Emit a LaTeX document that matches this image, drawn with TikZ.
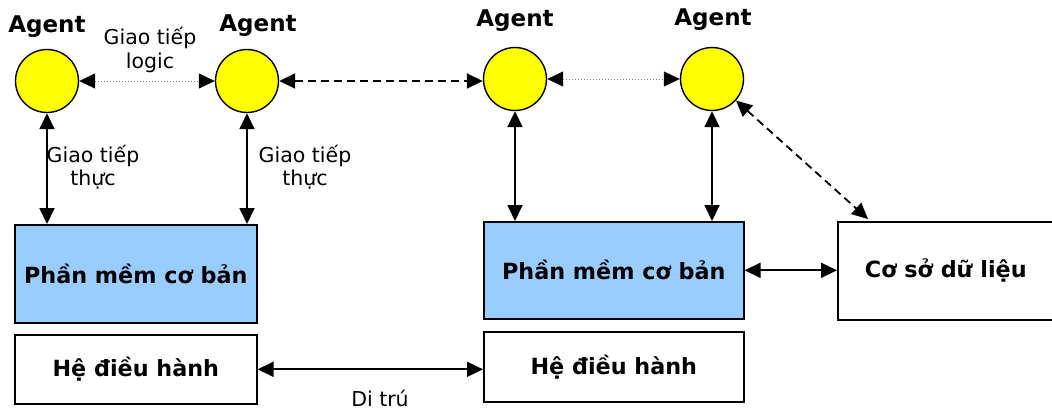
\documentclass[tikz,border=0pt]{standalone}
\usepackage{fontspec}
\setmainfont{DejaVu Sans}
\usetikzlibrary{arrows.meta}
\definecolor{agentyellow}{RGB}{255,255,0}
\definecolor{swblue}{RGB}{153,204,255}
\begin{document}
\begin{tikzpicture}[x=1pt,y=-1pt,
  agent/.style={circle,draw=black,line width=1.4pt,fill=agentyellow,minimum size=63pt,inner sep=0pt},
  box/.style={draw=black,line width=1.6pt,inner sep=0pt,anchor=north west,font=\fontsize{22.3}{26}\selectfont\bfseries},
  agentlbl/.style={font=\fontsize{23}{26}\selectfont\bfseries},
  lbl/.style={font=\fontsize{20.5}{23.5}\selectfont,align=center},
  link/.style={{Triangle[length=16pt,width=15pt,black]}-{Triangle[length=16pt,width=15pt,black]},line width=1.8pt},
  dashlink/.style={link,dash pattern=on 8pt off 5pt},
  dotlink/.style={link,line width=0.8pt,dash pattern=on 1.2pt off 1.8pt,draw=black!50}]
\useasboundingbox (0,0) rectangle (1052,410);

% agents
\node[agent] (a1) at (47,81) {};
\node[agent] (a2) at (247,81) {};
\node[agent] (a3) at (515,79) {};
\node[agent] (a4) at (712,79) {};
\node[agentlbl] (t1) at (47,27) {Agent};
\node[agentlbl] (t2) at (258,26) {Agent};
\node[agentlbl] (t3) at (515,21) {Agent};
\node[agentlbl] (t4) at (713,20) {Agent};

% boxes
\node[box,fill=swblue,minimum width=242pt,minimum height=98pt] (pm1) at (14,224) {Phần mềm cơ bản};
\node[box,fill=white,minimum width=242pt,minimum height=69pt] (hd1) at (14,334) {Hệ điều hành};
\node[box,fill=swblue,minimum width=260pt,minimum height=97pt] (pm2) at (483,221) {Phần mềm cơ bản};
\node[box,fill=white,minimum width=260pt,minimum height=70pt] (hd2) at (483,331) {Hệ điều hành};
\node[box,fill=white,minimum width=216pt,minimum height=98pt] (db) at (837,221) {Cơ sở dữ liệu};

% agent-to-agent links
\draw[dotlink] (a1) -- (a2);
\draw[dashlink] (a2.east) -- (a2.east -| a3.west);
\draw[dotlink] (a3) -- (a4);
\coordinate (dbtop) at (868,219);
\draw[dashlink] (a4) -- (dbtop);

% agent-to-software links
\draw[link] (a1) -- (pm1.north -| a1);
\draw[link] (a2) -- (pm1.north -| a2);
\draw[link] (a3) -- (pm2.north -| a3);
\draw[link] (a4) -- (pm2.north -| a4);

% horizontal links
\draw[link] (pm2.east) -- (db.west |- pm2.east);
\draw[link] (hd1.east) -- (hd2.west |- hd1.east);

% labels
\node[lbl] (l1) at (150,50) {Giao tiếp\\logic};
\node[lbl] (l2) at (93,167) {Giao tiếp\\thực};
\node[lbl] (l3) at (305,167) {Giao tiếp\\thực};
\node[lbl] (l4) at (380,398) {Di trú};
\end{tikzpicture}
\end{document}
